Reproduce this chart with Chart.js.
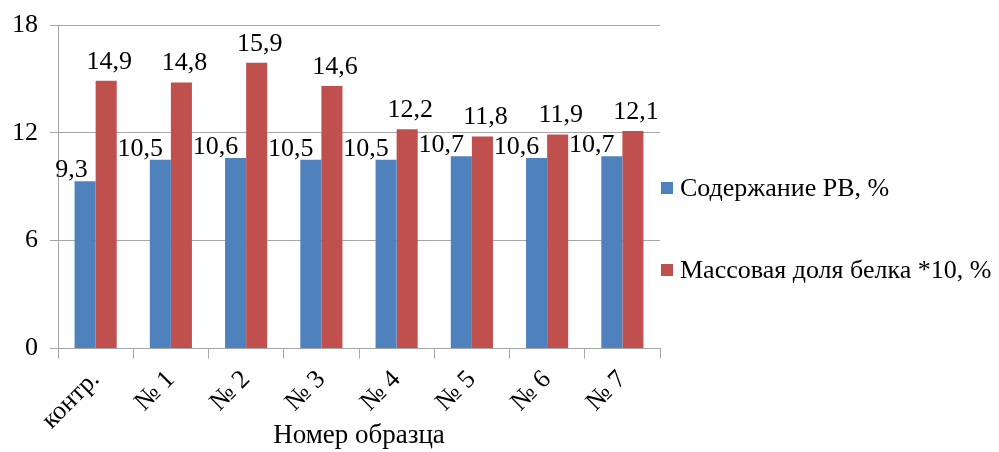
<!DOCTYPE html>
<html>
<head>
<meta charset="utf-8">
<script src="https://cdn.jsdelivr.net/npm/chart.js@4"></script>
<style>
  html, body { margin: 0; padding: 0; background: #fff; }
  #wrap { width: 999px; height: 452px; }
</style>
</head>
<body>
<div id="wrap"><canvas id="chart"></canvas></div>
<script>
// data
var categories = ["контр.", "№ 1", "№ 2", "№ 3", "№ 4", "№ 5", "№ 6", "№ 7"];
var rvValues = [9.3, 10.5, 10.6, 10.5, 10.5, 10.7, 10.6, 10.7];
var proteinValues = [14.9, 14.8, 15.9, 14.6, 12.2, 11.8, 11.9, 12.1];
var seriesNames = ["Содержание РВ, %", "Массовая доля белка *10, %"];
var yTicks = [0, 6, 12, 18];

var FONT = "'Liberation Serif', 'Times New Roman', serif";
var GRID = "#a6a6a6";

// value labels above bars, decimal comma
var valueLabels = {
    id: "valueLabels",
    afterDatasetsDraw: function (chart) {
        var ctx = chart.ctx;
        ctx.save();
        ctx.font = "26px " + FONT;
        ctx.fillStyle = "#000";
        ctx.textBaseline = "bottom";
        chart.data.datasets.forEach(function (ds, di) {
            var meta = chart.getDatasetMeta(di);
            meta.data.forEach(function (bar, i) {
                var txt = String(ds.data[i]).replace(".", ",");
                if (di === 0) {
                    ctx.textAlign = "right";
                    ctx.fillText(txt, bar.x + bar.width / 2 - 8, bar.y + 2);
                } else {
                    ctx.textAlign = "center";
                    ctx.fillText(txt, bar.x + 3, bar.y - 6);
                }
            });
        });
        ctx.restore();
    }
};

// legend on the right, drawn by hand (wide spacing like the original)
var sideLegend = {
    id: "sideLegend",
    afterDraw: function (chart) {
        var ctx = chart.ctx;
        var x = chart.chartArea.right + 1;
        var mid = chart.height / 2 + 3;
        ctx.save();
        ctx.font = "26px " + FONT;
        ctx.textBaseline = "middle";
        ctx.textAlign = "left";
        chart.data.datasets.forEach(function (ds, di) {
            var y = mid + (di === 0 ? -41 : 41);
            ctx.fillStyle = ds.backgroundColor;
            ctx.fillRect(x, y - 6, 12, 12);
            ctx.fillStyle = "#000";
            ctx.fillText(ds.label, x + 19, y + 1);
        });
        ctx.restore();
    }
};

var chart = new Chart(document.getElementById("chart"), {
    type: "bar",
    data: {
        labels: categories,
        datasets: [
            { label: seriesNames[0], data: rvValues, backgroundColor: "#4f81bd" },
            { label: seriesNames[1], data: proteinValues, backgroundColor: "#c0504d" }
        ]
    },
    options: {
        responsive: true,
        maintainAspectRatio: false,
        animation: false,
        layout: { padding: { top: 3, left: 0, right: 339, bottom: 0 } },
        datasets: { bar: { categoryPercentage: 0.56, barPercentage: 1.0 } },
        plugins: {
            legend: { display: false },
            tooltip: { enabled: false }
        },
        scales: {
            x: {
                grid: { offset: true, drawOnChartArea: false, drawTicks: true, tickLength: 10, color: GRID },
                border: { color: GRID },
                ticks: { color: "#000", font: { family: FONT, size: 26 }, minRotation: 45, maxRotation: 45, padding: 6 },
                title: { display: true, text: "Номер образца", color: "#000", font: { family: FONT, size: 27 }, padding: { top: -22, bottom: 0 } }
            },
            y: {
                min: 0,
                max: 18,
                afterBuildTicks: function (axis) {
                    axis.ticks = yTicks.map(function (v) { return { value: v }; });
                },
                grid: { color: GRID, tickLength: 8 },
                border: { color: GRID },
                ticks: { color: "#000", font: { family: FONT, size: 26, lineHeight: 1 }, padding: 12 }
            }
        }
    },
    plugins: [valueLabels, sideLegend]
});
</script>
</body>
</html>
